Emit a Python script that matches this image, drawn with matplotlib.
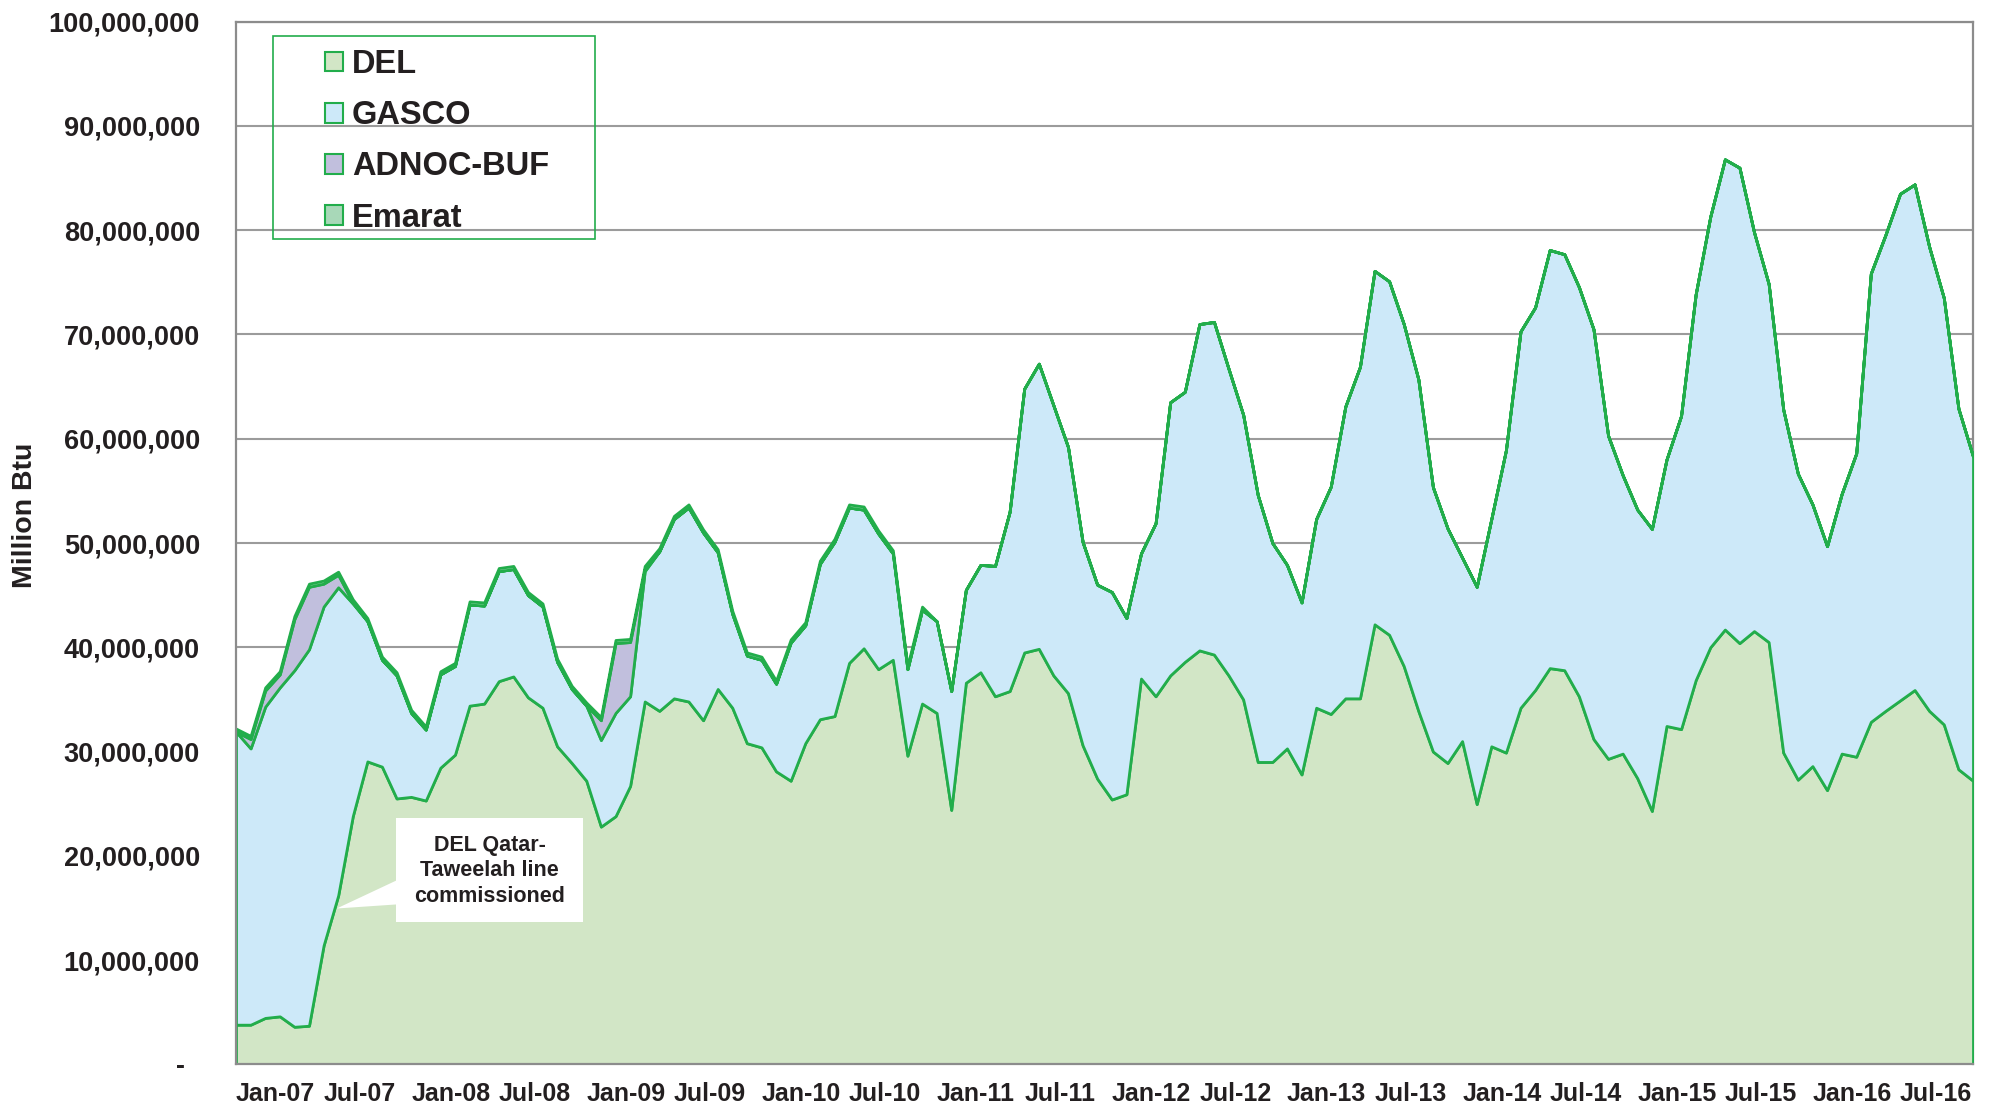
import numpy as np
import matplotlib
matplotlib.use('Agg')
import matplotlib.pyplot as plt
from matplotlib.patches import Patch, Rectangle, Polygon
from matplotlib.ticker import FuncFormatter, MultipleLocator

plt.rcParams['font.family'] = ['Liberation Sans', 'DejaVu Sans']

# ---------------- data (million Btu, monthly Jan-2007 .. Dec-2016) ----------------
series_names = ['DEL', 'GASCO', 'ADNOC-BUF', 'Emarat']

del_vals = [3.8, 3.8, 4.45, 4.6, 3.6, 3.7, 11.4, 16.2, 23.8, 29.05, 28.55, 25.5,
            25.65, 25.3, 28.45, 29.7, 34.4, 34.6, 36.75, 37.2, 35.2, 34.2, 30.5, 28.9,
            27.2, 22.8, 23.8, 26.7, 34.8, 33.9, 35.1, 34.8, 33.0, 36.0, 34.2, 30.8,
            30.4, 28.1, 27.2, 30.8, 33.1, 33.4, 38.5, 39.9, 37.9, 38.8, 29.6, 34.6,
            33.7, 24.4, 36.6, 37.6, 35.3, 35.8, 39.5, 39.85, 37.3, 35.6, 30.6, 27.4,
            25.4, 25.9, 37.0, 35.3, 37.3, 38.6, 39.7, 39.3, 37.3, 35.0, 29.0, 29.0,
            30.3, 27.8, 34.2, 33.6, 35.1, 35.1, 42.2, 41.2, 38.2, 33.9, 30.0, 28.9,
            31.0, 24.96, 30.5, 29.9, 34.2, 35.9, 38.0, 37.8, 35.3, 31.2, 29.3, 29.8,
            27.45, 24.3, 32.45, 32.15, 36.85, 40.0, 41.7, 40.4, 41.55, 40.5, 29.9, 27.3,
            28.6, 26.3, 29.8, 29.5, 32.85, 33.9, 34.9, 35.9, 33.9, 32.6, 28.3, 27.2]

gasco_vals = [28.1, 26.5, 29.85, 31.55, 34.2, 36.1, 32.5, 29.55, 20.4, 13.45, 10.25, 11.8,
              8.05, 6.8, 8.95, 8.5, 9.7, 9.4, 10.55, 10.3, 9.8, 9.7, 8.1, 7.1,
              7.2, 8.3, 9.9, 8.6, 12.5, 15.3, 17.2, 18.6, 18.0, 13.1, 9.0, 8.4,
              8.4, 8.4, 13.25, 11.3, 14.9, 16.7, 14.9, 13.3, 13.0, 10.2, 8.3, 9.0,
              8.8, 11.4, 8.9, 10.3, 12.5, 17.2, 25.3, 27.35, 25.9, 23.6, 19.5, 18.6,
              19.9, 16.9, 12.0, 16.6, 26.2, 25.9, 31.3, 31.9, 29.4, 27.3, 25.6, 21.0,
              17.6, 16.5, 18.1, 21.8, 28.0, 31.8, 33.9, 33.9, 32.8, 31.8, 25.35, 22.5,
              17.6, 20.84, 21.8, 29.0, 36.1, 36.7, 40.1, 39.9, 39.25, 39.3, 31.0, 26.7,
              25.75, 27.05, 25.55, 30.05, 37.0, 41.3, 45.1, 45.6, 38.25, 34.35, 32.9, 29.35,
              25.1, 23.4, 24.9, 29.1, 43.0, 45.65, 48.6, 48.5, 44.5, 40.9, 34.6, 31.1]

adnoc_vals = [0.0, 0.9, 1.55, 1.25, 4.9, 6.0, 2.2, 1.2, 0.1, 0, 0, 0,
              0, 0, 0, 0, 0, 0, 0, 0, 0, 0, 0, 0,
              0, 1.9, 6.7, 5.2, 0.2, 0, 0, 0, 0, 0, 0, 0] + [0] * 84

emarat_vals = [0.3] * 48 + [0] * 72

tick_labels = ['Jan-07', 'Jul-07', 'Jan-08', 'Jul-08', 'Jan-09', 'Jul-09',
               'Jan-10', 'Jul-10', 'Jan-11', 'Jul-11', 'Jan-12', 'Jul-12',
               'Jan-13', 'Jul-13', 'Jan-14', 'Jul-14', 'Jan-15', 'Jul-15',
               'Jan-16', 'Jul-16']

# ---------------- styling ----------------
GREEN = '#22AD4B'
TEXT = '#231F20'
fills = ['#D2E6C6', '#CDE9F9', '#C1BFDD', '#A8D8B8']

W, H = 1993, 1109
fig = plt.figure(figsize=(W / 100, H / 100), dpi=100)
left, right, top, bottom = 236, 1973, 21.7, 1064.3
ax = fig.add_axes([left / W, 1 - bottom / H, (right - left) / W, (bottom - top) / H])

months = np.arange(len(del_vals))
stack = [np.asarray(v, dtype=float) * 1e6 for v in (del_vals, gasco_vals, adnoc_vals, emarat_vals)]
ax.stackplot(months, *stack, colors=fills, edgecolor=GREEN, linewidth=2.0,
             labels=series_names, zorder=1)

ax.set_xlim(0, len(del_vals) - 1)
ax.set_ylim(0, 100e6)

# y axis
ax.yaxis.set_major_locator(MultipleLocator(10e6))
ax.yaxis.set_major_formatter(FuncFormatter(lambda v, p: '-  ' if v == 0 else f'{v:,.0f}'))
ax.tick_params(axis='y', length=0, pad=26, labelsize=19.5, labelcolor=TEXT)
for lab in ax.get_yticklabels():
    lab.set_fontweight('bold')
ax.yaxis.grid(True, color='#9B9B9B', linewidth=1.5)
ax.set_axisbelow(True)

# x axis
ax.set_xticks(np.arange(0, len(tick_labels) * 6, 6))
ax.set_xticklabels(tick_labels, ha='left', fontsize=18, fontweight='bold', color=TEXT)
ax.tick_params(axis='x', length=0, pad=13)

for name, sp in ax.spines.items():
    sp.set_color('#8C8C8C')
    sp.set_linewidth(1.6)
ax.spines['right'].set_zorder(0.9)

ax.set_ylabel('Million Btu', fontsize=20.5, fontweight='bold', color=TEXT)
ax.yaxis.set_label_coords((38 - left) / (right - left), (bottom - 515) / (bottom - top))

# ---------------- annotation callout ----------------
def px_to_data(xp, yp):
    xi = (xp - left) / (right - left) * (len(del_vals) - 1)
    yv = (bottom - yp) / (bottom - top) * 100e6
    return xi, yv

bx0, by0 = px_to_data(396, 921.6)
bx1, by1 = px_to_data(583, 818.3)
ax.add_patch(Rectangle((bx0, by0), bx1 - bx0, by1 - by0, facecolor='white',
                       edgecolor='none', zorder=4))
ax.add_patch(Polygon([px_to_data(336.7, 908.5), px_to_data(397, 880.2), px_to_data(397, 904.4)],
                     closed=True, facecolor='white', edgecolor='none', zorder=4))
tx, ty = px_to_data(489.5, 871)
ax.text(tx, ty, 'DEL Qatar-\nTaweelah line\ncommissioned', ha='center', va='center',
        fontsize=15.5, fontweight='bold', color=TEXT, linespacing=1.3, zorder=5)

# ---------------- legend ----------------
handles = [Patch(facecolor=c, edgecolor=GREEN, linewidth=1.5) for c in fills]
leg = ax.legend(handles, series_names, loc='upper left',
                bbox_to_anchor=(325 / W, 1 - 49 / H), bbox_transform=fig.transFigure,
                frameon=False, prop={'size': 23.5, 'weight': 'bold'},
                handlelength=0.55, handleheight=0.55, handletextpad=0.27,
                labelspacing=0.62, borderpad=0, borderaxespad=0)
for t in leg.get_texts():
    t.set_color(TEXT)
ax.add_patch(Rectangle((272.7 / W, 1 - 239.3 / H), (595 - 272.7) / W, (239.3 - 36) / H,
                       transform=fig.transFigure, fill=False, edgecolor=GREEN,
                       linewidth=1.2, clip_on=False, zorder=6))

fig.savefig('out.png', dpi=100, facecolor='white')
